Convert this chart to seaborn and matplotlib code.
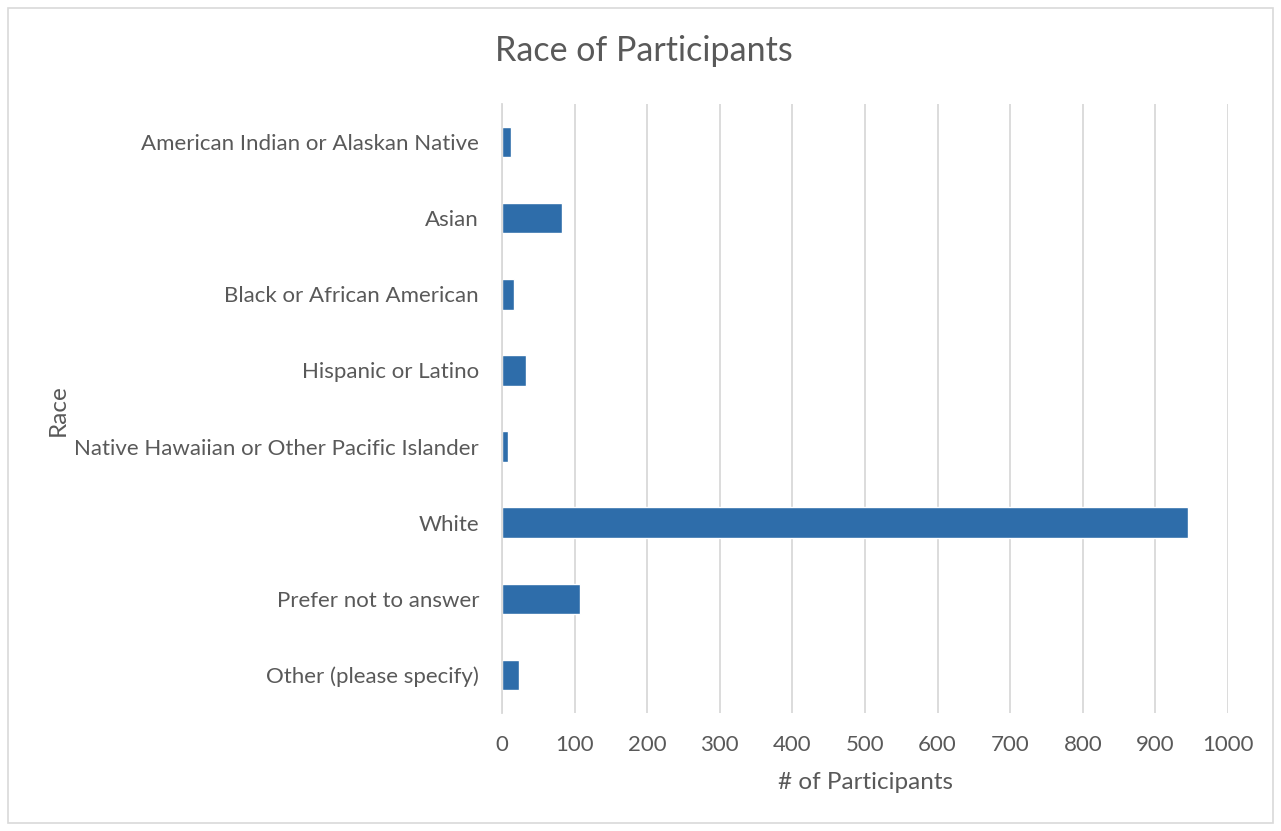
import matplotlib
matplotlib.use("Agg")
import matplotlib.pyplot as plt
import matplotlib.patches as mpatches
import seaborn as sns
import pandas as pd

races = [
    "American Indian or Alaskan Native",
    "Asian",
    "Black or African American",
    "Hispanic or Latino",
    "Native Hawaiian or Other Pacific Islander",
    "White",
    "Prefer not to answer",
    "Other (please specify)",
]
counts = [13, 83, 16, 33, 8, 945, 107, 24]
x_ticks = [0, 100, 200, 300, 400, 500, 600, 700, 800, 900, 1000]

df = pd.DataFrame({"Race": races, "Participants": counts})

sns.set_theme(style="white")
plt.rcParams["font.family"] = ["Lato", "DejaVu Sans"]

text_color = "#595959"
grid_color = "#d9d9d9"
bar_color = "#2E6DAA"

fig = plt.figure(figsize=(12.81, 8.31), dpi=100)
ax = fig.add_axes([502 / 1281, (831 - 713) / 831, (1228 - 502) / 1281, (713 - 104) / 831])

sns.barplot(data=df, y="Race", x="Participants", order=races, color=bar_color,
            width=0.4, orient="h", ax=ax, saturation=1)

ax.set_xlim(0, 1000)
ax.set_ylim(7.5, -0.5)
ax.set_xticks(x_ticks)
ax.set_xticklabels([str(t) for t in x_ticks])
ax.xaxis.grid(True, color=grid_color, linewidth=1.3)
ax.set_axisbelow(True)

for side in ["top", "right", "bottom"]:
    ax.spines[side].set_visible(False)
ax.spines["left"].set_color(grid_color)
ax.spines["left"].set_linewidth(1.3)

ax.tick_params(axis="both", length=0, labelsize=16, colors=text_color)
ax.tick_params(axis="x", pad=16)
ax.tick_params(axis="y", pad=16.5)

ax.set_xlabel("# of Participants", fontsize=17.5, color=text_color, labelpad=12)
ax.set_ylabel("")
fig.text(58 / 1281, 1 - 410 / 831, "Race", rotation=90, fontsize=17.5,
         color=text_color, ha="center", va="center")

fig.text(644 / 1281, 1 - 51 / 831, "Race of Participants", fontsize=24.5,
         color=text_color, ha="center", va="center")

# Light frame around the whole chart
fig.patches.append(mpatches.Rectangle((8 / 1281, 8 / 831), 1265 / 1281, 815 / 831,
                                      transform=fig.transFigure, fill=False,
                                      edgecolor=grid_color, linewidth=1.2))

fig.savefig("out.png", dpi=100)
